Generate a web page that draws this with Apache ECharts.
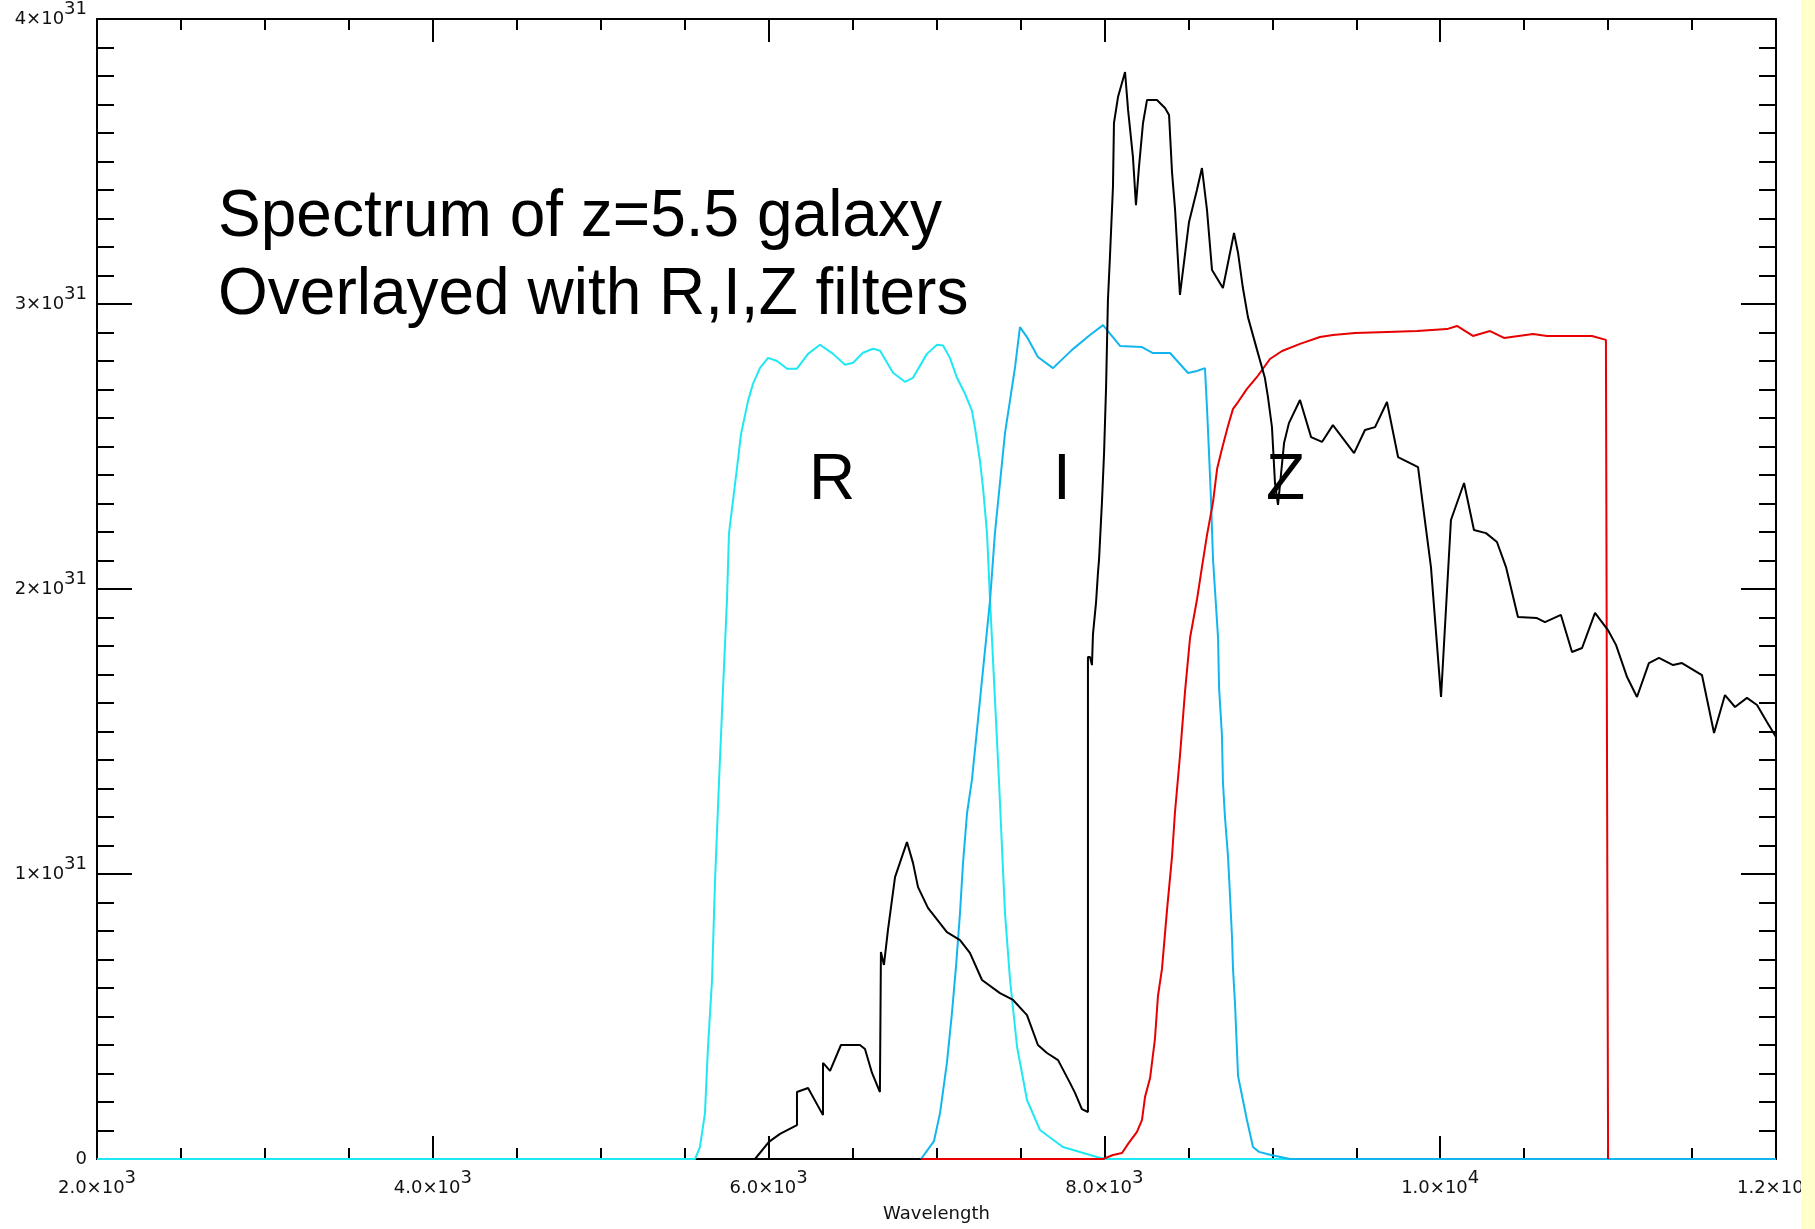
<!DOCTYPE html>
<html><head><meta charset="utf-8">
<script src="https://cdn.jsdelivr.net/npm/echarts@6/dist/echarts.min.js"></script>
<style>html,body{margin:0;padding:0;background:#fff}#c{width:1815px;height:1229px}</style>
</head><body><div id="c"></div><script>
// ---- data (wavelength in Å, flux in units of 1e31) ----
const titleLines = ['Spectrum of z=5.5 galaxy', 'Overlayed with R,I,Z filters'];
const filterNames = ['R', 'I', 'Z'];
const xAxisTitle = 'Wavelength';
const xRange = [2000, 12000];
const yRange = [0, 4];
const xTickValues = [2000, 4000, 6000, 8000, 10000, 12000];
const xTickMantissa = ['2.0×10', '4.0×10', '6.0×10', '8.0×10', '1.0×10', '1.2×10'];
const xTickExponent = ['3', '3', '3', '3', '4', '4'];
const yTickValues = [0, 1, 2, 3, 4];
const yTickMantissa = ['0', '1×10', '2×10', '3×10', '4×10'];
const yTickExponent = ['', '31', '31', '31', '31'];

const filterR = [[2000,0],[5562,0],[5591,0.042],[5621,0.161],[5639,0.393],[5663,0.628],[5681,0.978],[5705,1.329],[5728,1.644],[5752,1.96],[5764,2.195],[5812,2.426],[5836,2.545],[5878,2.661],[5907,2.72],[5949,2.776],[5997,2.811],[6050,2.8],[6110,2.773],[6169,2.773],[6235,2.825],[6306,2.857],[6384,2.825],[6455,2.787],[6503,2.794],[6562,2.829],[6622,2.843],[6664,2.836],[6741,2.759],[6812,2.727],[6860,2.741],[6943,2.825],[7003,2.857],[7039,2.854],[7080,2.811],[7122,2.741],[7170,2.685],[7211,2.626],[7229,2.566],[7259,2.45],[7277,2.356],[7301,2.195],[7319,1.96],[7372,1.329],[7390,1.094],[7408,0.862],[7438,0.628],[7480,0.393],[7539,0.207],[7616,0.102],[7753,0.042],[7956,0.007],[8004,0],[12000,0]];

const filterI = [[6908,0],[6985,0.063],[7021,0.161],[7062,0.337],[7092,0.512],[7116,0.674],[7140,0.863],[7158,1.039],[7182,1.214],[7211,1.33],[7247,1.54],[7283,1.751],[7319,1.961],[7348,2.196],[7378,2.372],[7408,2.547],[7438,2.663],[7468,2.779],[7497,2.919],[7539,2.884],[7604,2.814],[7694,2.775],[7807,2.839],[7914,2.891],[7992,2.926],[8093,2.853],[8224,2.849],[8289,2.828],[8391,2.828],[8498,2.758],[8551,2.765],[8599,2.775],[8611,2.635],[8623,2.477],[8635,2.312],[8647,2.102],[8659,1.993],[8677,1.828],[8683,1.653],[8700,1.488],[8706,1.323],[8718,1.2],[8736,1.063],[8748,0.926],[8760,0.779],[8766,0.667],[8778,0.544],[8796,0.291],[8849,0.137],[8885,0.042],[8921,0.025],[8992,0.014],[9105,0],[12000,0]];

const filterZ = [[6908,0],[7992,0],[8051,0.014],[8105,0.021],[8141,0.053],[8194,0.095],[8224,0.137],[8242,0.218],[8272,0.284],[8301,0.421],[8319,0.572],[8343,0.667],[8373,0.874],[8403,1.063],[8420,1.214],[8450,1.414],[8480,1.639],[8510,1.828],[8552,1.965],[8581,2.077],[8611,2.189],[8647,2.305],[8671,2.421],[8700,2.491],[8736,2.572],[8766,2.632],[8796,2.656],[8849,2.702],[8909,2.744],[8986,2.807],[9058,2.835],[9165,2.86],[9284,2.884],[9361,2.891],[9493,2.898],[9683,2.902],[9862,2.905],[10040,2.912],[10100,2.923],[10195,2.888],[10297,2.905],[10380,2.881],[10553,2.895],[10636,2.888],[10904,2.888],[10987,2.874],[11000,0]];

const spectrum = [[5848,0],[5919,0],[6002,0.06],[6068,0.088],[6169,0.119],[6169,0.235],[6235,0.249],[6324,0.154],[6324,0.337],[6366,0.309],[6431,0.4],[6544,0.4],[6574,0.386],[6616,0.302],[6663,0.235],[6669,0.726],[6687,0.681],[6711,0.804],[6753,0.989],[6794,1.06],[6824,1.112],[6860,1.039],[6890,0.954],[6949,0.881],[7062,0.796],[7140,0.768],[7199,0.723],[7271,0.628],[7378,0.582],[7456,0.558],[7539,0.505],[7604,0.4],[7658,0.372],[7724,0.347],[7795,0.267],[7825,0.232],[7866,0.175],[7902,0.165],[7902,1.761],[7914,1.761],[7926,1.733],[7932,1.842],[7950,1.951],[7962,2.06],[7968,2.102],[7986,2.312],[7998,2.477],[8010,2.709],[8021,3.014],[8033,3.165],[8051,3.411],[8057,3.635],[8081,3.726],[8123,3.814],[8141,3.681],[8170,3.516],[8188,3.347],[8206,3.481],[8230,3.635],[8254,3.716],[8313,3.716],[8361,3.688],[8385,3.663],[8403,3.46],[8421,3.33],[8450,3.032],[8504,3.288],[8551,3.4],[8581,3.477],[8611,3.33],[8641,3.119],[8706,3.056],[8736,3.144],[8772,3.249],[8796,3.179],[8825,3.056],[8855,2.954],[8909,2.839],[8956,2.74],[8974,2.674],[8998,2.568],[9016,2.372],[9034,2.295],[9070,2.512],[9099,2.582],[9165,2.663],[9231,2.533],[9296,2.516],[9361,2.575],[9487,2.477],[9552,2.558],[9612,2.568],[9683,2.656],[9749,2.463],[9868,2.428],[9903,2.267],[9945,2.077],[10005,1.621],[10064,2.242],[10142,2.372],[10201,2.207],[10273,2.196],[10338,2.165],[10392,2.077],[10463,1.902],[10576,1.898],[10624,1.884],[10719,1.909],[10785,1.779],[10845,1.793],[10922,1.916],[10999,1.856],[11047,1.804],[11113,1.691],[11172,1.621],[11243,1.74],[11303,1.758],[11387,1.733],[11440,1.74],[11559,1.698],[11631,1.495],[11696,1.628],[11756,1.586],[11827,1.618],[11887,1.593],[11946,1.533],[12000,1.481]];

// ---- chart ----
const FONT = 'DejaVu Sans';
const TITLE_FONT = '"Liberation Sans", Arial, sans-serif';
const richLabel = {
  b: {fontFamily: FONT, fontSize: 18, lineHeight: 18, color: '#111', verticalAlign: 'bottom'},
  s: {fontFamily: FONT, fontSize: 18, lineHeight: 18, color: '#111', verticalAlign: 'bottom', padding: [0, 0, 10, 0]}
};
function xFmt(v) {
  const i = xTickValues.indexOf(Math.round(v));
  if (i < 0) return '';
  return '{b|' + xTickMantissa[i] + '}{s|' + xTickExponent[i] + '}';
}
function yFmt(v) {
  const i = yTickValues.indexOf(Math.round(v * 1000) / 1000);
  if (i < 0) return '';
  return yTickExponent[i] ? '{b|' + yTickMantissa[i] + '}{s|' + yTickExponent[i] + '}' : '{b|' + yTickMantissa[i] + '}';
}
const axLine = {show: true, onZero: false, lineStyle: {color: '#000', width: 2}};
function xAx(pos, labels) {
  return {
    type: 'value', position: pos, min: xRange[0], max: xRange[1], interval: 2000,
    axisLine: axLine,
    axisTick: {show: true, inside: true, length: 23, lineStyle: {color: '#000', width: 2}},
    minorTick: {show: true, splitNumber: 4, length: 11, lineStyle: {color: '#000', width: 2}},
    splitLine: {show: false}, minorSplitLine: {show: false},
    axisLabel: {show: labels, margin: 20, fontSize: 18, fontFamily: FONT, color: '#111', formatter: xFmt, rich: richLabel, showMinLabel: true, showMaxLabel: true, hideOverlap: false},
    name: labels ? xAxisTitle : '', nameLocation: 'middle', nameGap: 46,
    nameTextStyle: {fontFamily: FONT, fontSize: 18, color: '#111'}
  };
}
function yAx(pos, labels) {
  return {
    type: 'value', position: pos, min: yRange[0], max: yRange[1], interval: 1,
    axisLine: axLine,
    axisTick: {show: true, inside: true, length: 35, lineStyle: {color: '#000', width: 2}},
    minorTick: {show: true, splitNumber: 10, length: 17, lineStyle: {color: '#000', width: 2}},
    splitLine: {show: false}, minorSplitLine: {show: false},
    axisLabel: {show: labels, margin: 10, fontSize: 18, fontFamily: FONT, color: '#111', formatter: yFmt, rich: richLabel, showMinLabel: true, showMaxLabel: true, hideOverlap: false}
  };
}
function lineSeries(data, color, z) {
  return {type: 'line', data: data, showSymbol: false, symbol: 'none', clip: false, z: z,
    lineStyle: {color: color, width: 2}, itemStyle: {color: color}, emphasis: {disabled: true}, silent: true};
}
const chart = echarts.init(document.getElementById('c'), null, {renderer: 'canvas'});
chart.setOption({
  animation: false,
  backgroundColor: '#fff',
  textStyle: {fontFamily: FONT},
  grid: {left: 97, right: 39, top: 19, bottom: 70, containLabel: false, outerBoundsMode: 'none'},
  xAxis: [xAx('bottom', true), xAx('top', false)],
  yAxis: [yAx('left', true), yAx('right', false)],
  series: [
    lineSeries(filterR, '#1EE8F2', 2),
    lineSeries(filterI, '#12B6EE', 3),
    lineSeries(filterZ, '#E60000', 4),
    lineSeries(spectrum, '#000000', 5)
  ],
  graphic: [
    {type: 'text', x: 218, y: 217, z: 50, scaleY: 1.05, style: {text: titleLines[0], font: '64px ' + TITLE_FONT, fill: '#000', verticalAlign: 'middle', align: 'left'}},
    {type: 'text', x: 218, y: 295, z: 50, scaleY: 1.05, style: {text: titleLines[1], font: '64px ' + TITLE_FONT, fill: '#000', verticalAlign: 'middle', align: 'left'}},
    {type: 'text', x: 809, y: 481, z: 50, style: {text: filterNames[0], font: '64px ' + TITLE_FONT, fill: '#000', verticalAlign: 'middle', align: 'left'}},
    {type: 'text', x: 1053, y: 481, z: 50, style: {text: filterNames[1], font: '64px ' + TITLE_FONT, fill: '#000', verticalAlign: 'middle', align: 'left'}},
    {type: 'text', x: 1266, y: 481, z: 50, style: {text: filterNames[2], font: '64px ' + TITLE_FONT, fill: '#000', verticalAlign: 'middle', align: 'left'}},
    {type: 'rect', z: 100, shape: {x: 1801, y: 0, width: 14, height: 1229}, style: {fill: '#FFFFCC'}}
  ]
});
</script></body></html>
